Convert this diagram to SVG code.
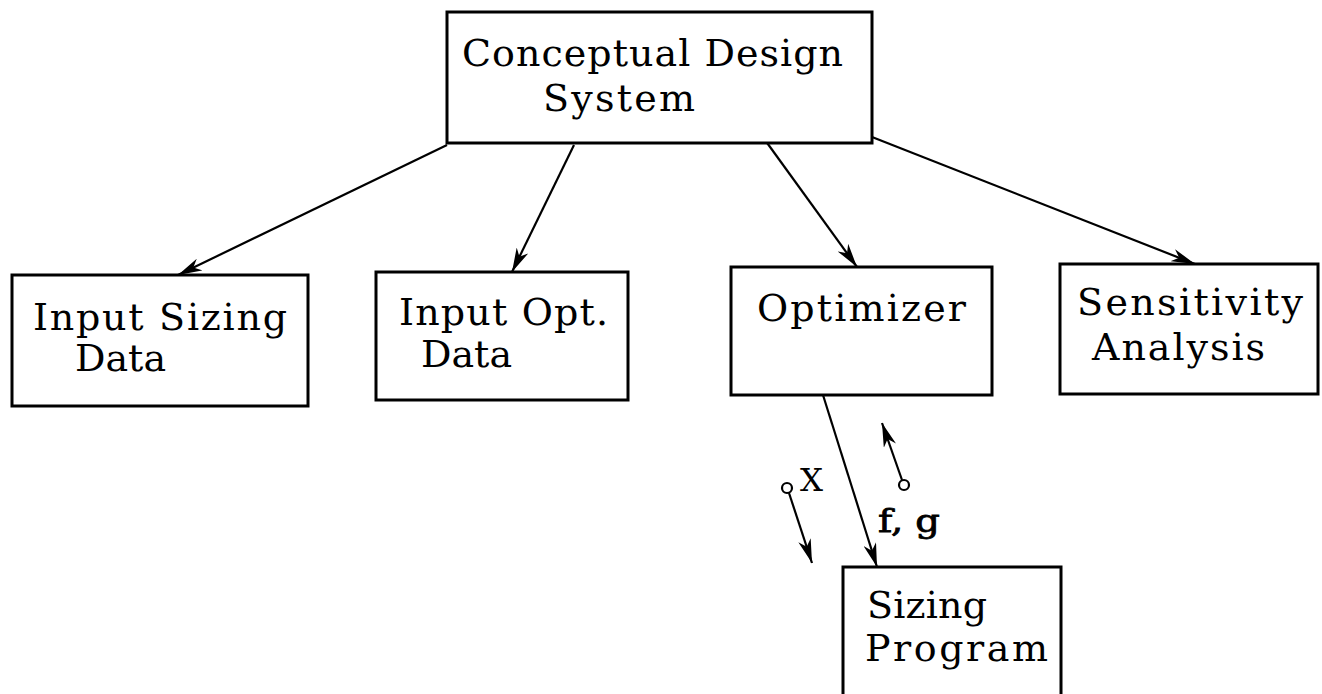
<svg xmlns="http://www.w3.org/2000/svg" width="1322" height="694" viewBox="0 0 1322 694">
<style>
.box{fill:#fff;stroke:#000;stroke-width:3}
.t{font-family:"DejaVu Serif","Liberation Serif",serif;font-size:38px;fill:#000}
.s{font-family:"DejaVu Serif","Liberation Serif",serif;font-size:32px;fill:#000}
.c{fill:none;stroke:#000;stroke-width:2.2}
.dot{fill:#fff;stroke:#000;stroke-width:2.2}
</style>
<defs>
<marker id="ah" viewBox="0 0 24 13" refX="24" refY="6.5" markerWidth="24" markerHeight="13" markerUnits="userSpaceOnUse" orient="auto">
<path d="M0,0 L24,6.5 L0,13 L7,6.5 Z" fill="#000"/>
</marker>
</defs>
<g id="connectors">
<line class="c" x1="447" y1="145" x2="178" y2="275" marker-end="url(#ah)"/>
<line class="c" x1="574" y1="145" x2="512" y2="272" marker-end="url(#ah)"/>
<line class="c" x1="765" y1="140" x2="857" y2="267" marker-end="url(#ah)"/>
<line class="c" x1="872" y1="137" x2="1195" y2="264" marker-end="url(#ah)"/>
<line class="c" x1="823" y1="395" x2="877" y2="567" marker-end="url(#ah)"/>
<line class="c" x1="789" y1="493" x2="812" y2="563" marker-end="url(#ah)"/>
<circle class="dot" cx="787" cy="488" r="5"/>
<line class="c" x1="902" y1="480" x2="882" y2="423" marker-end="url(#ah)"/>
<circle class="dot" cx="904" cy="485" r="5"/>
<text class="s" x="800" y="491" font-size="26" textLength="23" lengthAdjust="spacingAndGlyphs">X</text>
<text class="s" x="878" y="532" stroke="#000" stroke-width="0.8" textLength="62" lengthAdjust="spacingAndGlyphs">f, g</text>
</g>
<g id="conceptual">
<rect class="box" x="447" y="12" width="425" height="131"/>
<text class="t" x="462" y="66" textLength="381" lengthAdjust="spacing">Conceptual Design</text>
<text class="t" x="543" y="111" textLength="152" lengthAdjust="spacing">System</text>
</g>
<g id="inputsizing">
<rect class="box" x="12" y="275" width="296" height="131"/>
<text class="t" x="33" y="330" textLength="254" lengthAdjust="spacing">Input Sizing</text>
<text class="t" x="75" y="371">Data</text>
</g>
<g id="inputopt">
<rect class="box" x="376" y="272" width="252" height="128"/>
<text class="t" x="399" y="325" textLength="209" lengthAdjust="spacing">Input Opt.</text>
<text class="t" x="421" y="367">Data</text>
</g>
<g id="optimizer">
<rect class="box" x="731" y="267" width="261" height="128"/>
<text class="t" x="757" y="321" textLength="209" lengthAdjust="spacing">Optimizer</text>
</g>
<g id="sensitivity">
<rect class="box" x="1060" y="264" width="258" height="130"/>
<text class="t" x="1077" y="315" textLength="226" lengthAdjust="spacing">Sensitivity</text>
<text class="t" x="1092" y="360" textLength="173" lengthAdjust="spacing">Analysis</text>
</g>
<g id="sizingprogram">
<rect class="box" x="843" y="567" width="218" height="150"/>
<text class="t" x="867" y="618" textLength="120" lengthAdjust="spacing">Sizing</text>
<text class="t" x="865" y="661" textLength="183" lengthAdjust="spacing">Program</text>
</g>
</svg>
